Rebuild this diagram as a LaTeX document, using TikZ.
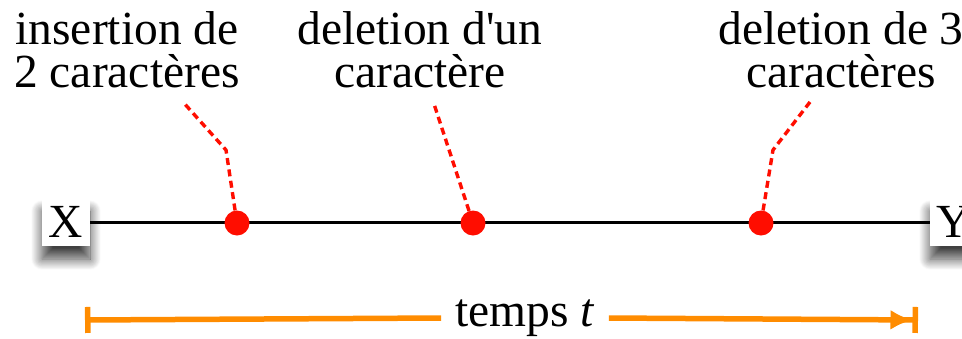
\documentclass[tikz,border=0pt]{standalone}
\usepackage{fontspec}
\setmainfont{Liberation Serif}
\usetikzlibrary{arrows.meta,shadows.blur}

\begin{document}
\begin{tikzpicture}[
                x=1pt,y=-1pt,
                every node/.style={
                    font=\fontsize{47.5}{43}\selectfont
                },
                endbox/.style={
                    fill=white,
                    rectangle,
                    minimum width=48pt,
                    minimum height=48pt,
                    inner sep=0pt,
                    blur shadow={shadow xshift=0pt,shadow yshift=-13pt,
                        shadow blur radius=11pt,shadow blur steps=20,
                        shadow opacity=75}
                },
                event/.style={
                    circle,
                    fill=red!90!orange,
                    minimum size=25pt,
                    inner sep=0pt
                },
                label/.style={
                    align=center,
                    anchor=north,
                    inner sep=0pt
                },
                lead/.style={
                    draw=red!90!orange,
                    line width=3.4pt,
                    dash pattern=on 7pt off 4.5pt
                },
                timebar/.style={
                    draw=orange!90!yellow,
                    line width=5.5pt
                }
            ]
                \useasboundingbox (0,0) rectangle (962,338);
                \clip (0,0) rectangle (962,338);

                \node[endbox] (X) at (66,222) {X};
                \node[endbox] (Y) at (954,222) {Y};
                \draw[line width=3pt] (X.east) -- (Y.west);

                \node[event] (ev1) at (237,223) {};
                \node[event] (ev2) at (473,223) {};
                \node[event] (ev3) at (761,223) {};

                \node[label] (lab1) at (127,11) {insertion de\\2 caractères};
                \node[label] (lab2) at (420,11) {deletion d\textquotesingle un\\caractère};
                \node[label] (lab3) at (841,11) {deletion de 3\\caractères};

                \coordinate (bend1) at (226,150);
                \coordinate (top1) at (183,102);
                \coordinate (top2) at (434,104);
                \coordinate (bend3) at (773,150);
                \coordinate (top3) at (810,102);

                \draw[lead] (ev1) -- (bend1) -- (top1);
                \draw[lead] (ev2) -- (top2);
                \draw[lead] (ev3) -- (bend3) -- (top3);

                \coordinate (t0) at (85,320);
                \coordinate (t1) at (918,320);
                \node[fill=white,inner xsep=14pt,inner ysep=2pt] (temps) at (525,318) {temps \textit{t}};
                \draw[timebar,{Bar[width=26pt]}-] (t0) -- (temps.west);
                \draw[timebar,-{Latex[length=22pt,width=20pt]Bar[width=26pt]}] (temps.east) -- (t1);
        \end{tikzpicture}
\end{document}
